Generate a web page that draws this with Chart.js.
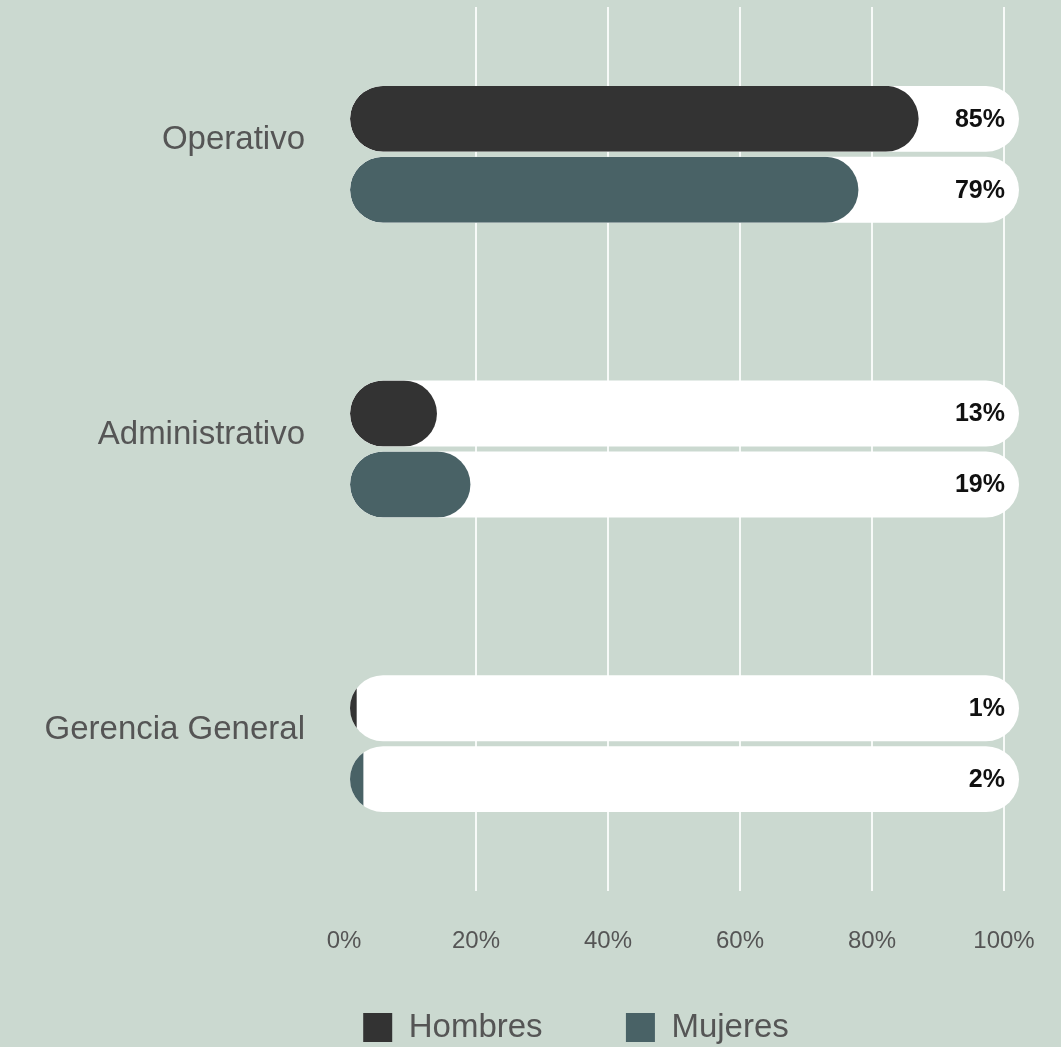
<!DOCTYPE html>
<html>
<head>
<meta charset="utf-8">
<script src="https://cdn.jsdelivr.net/npm/chart.js@4.4.1/dist/chart.umd.min.js"></script>
<style>
  html, body { margin: 0; padding: 0; background: #cbd9d0; overflow: hidden; }
  #wrap { width: 1112px; height: 1054px; }
</style>
</head>
<body>
<div id="wrap"><canvas id="chart" width="1112" height="1054"></canvas></div>
<script>
// Categories and series
const CATEGORIES = ['Operativo', 'Administrativo', 'Gerencia General'];
const SERIES = ['Hombres', 'Mujeres'];

// Printed percentages at the end of each track
const HOMBRES_LABELS = [85, 13, 1];
const MUJERES_LABELS = [79, 19, 2];

// Bar lengths as drawn
const HOMBRES = [85, 13, 1];
const MUJERES = [76, 18, 2];
const TRACK = [100, 100, 100];

// Axis ticks
const X_TICKS = [0, 20, 40, 60, 80, 100];

const HOMBRES_COLOR = '#333333';
const MUJERES_COLOR = '#496266';
const TEXT_GRAY = '#555555';
const FONT = '"Liberation Sans", Arial, Helvetica, sans-serif';

// clip the coloured bars to the white track shape
const clipToTrack = {
    id: 'clipToTrack',
    beforeDatasetDraw(chart, args) {
        if (args.index > 1) return;
        const track = chart.getDatasetMeta(args.index + 2);
        const ctx = chart.ctx;
        ctx.save();
        ctx.beginPath();
        track.data.forEach(el => {
            const left = Math.min(el.x, el.base);
            const w = Math.abs(el.x - el.base);
            ctx.roundRect(left, el.y - el.height / 2, w, el.height, el.height / 2);
        });
        ctx.clip();
    },
    afterDatasetDraw(chart, args) {
        if (args.index > 1) return;
        chart.ctx.restore();
    }
};

// percentage labels at the right end of the tracks
const endLabels = {
    id: 'endLabels',
    afterDatasetsDraw(chart) {
        const ctx = chart.ctx;
        ctx.save();
        ctx.font = 'bold 25px ' + FONT;
        ctx.fillStyle = '#111111';
        ctx.textAlign = 'right';
        ctx.textBaseline = 'middle';
        [HOMBRES_LABELS, MUJERES_LABELS].forEach((labels, i) => {
            chart.getDatasetMeta(i + 2).data.forEach((el, j) => {
                ctx.fillText(labels[j] + '%', el.x - 14, el.y + 1);
            });
        });
        ctx.restore();
    }
};

const barStyle = {
    xAxisID: 'xb',
    borderRadius: 33,
    borderSkipped: false,
    barPercentage: 0.93,
    categoryPercentage: 0.4814,
};

const noPadY = (w) => scale => { scale.width = w; scale.paddingTop = 0; scale.paddingBottom = 0; };

new Chart(document.getElementById('chart'), {
    type: 'bar',
    data: {
        labels: CATEGORIES,
        datasets: [
            { ...barStyle, label: SERIES[0], data: HOMBRES, backgroundColor: HOMBRES_COLOR, stack: 'h', order: 0 },
            { ...barStyle, label: SERIES[1], data: MUJERES, backgroundColor: MUJERES_COLOR, stack: 'm', order: 0 },
            { ...barStyle, label: 'track h', data: TRACK, backgroundColor: '#ffffff', stack: 'h', order: 1 },
            { ...barStyle, label: 'track m', data: TRACK, backgroundColor: '#ffffff', stack: 'm', order: 1 },
        ]
    },
    options: {
        indexAxis: 'y',
        responsive: false,
        animation: false,
        devicePixelRatio: 1,
        layout: {
            padding: { top: 7, left: 40, right: 0, bottom: 0 }
        },
        plugins: {
            tooltip: { enabled: false },
            legend: {
                position: 'bottom',
                labels: {
                    filter: item => item.datasetIndex < 2,
                    generateLabels: chart => {
                        const items = Chart.defaults.plugins.legend.labels.generateLabels(chart);
                        // wider spacing after the first entry
                        items[0].text = items[0].text + '\u00a0'.repeat(8);
                        return items;
                    },
                    boxWidth: 29,
                    boxHeight: 29,
                    padding: 10,
                    color: TEXT_GRAY,
                    font: { family: FONT, size: 33 }
                }
            }
        },
        scales: {
            y: {
                stacked: true,
                grid: { display: false, drawTicks: false },
                border: { display: false },
                ticks: {
                    color: TEXT_GRAY,
                    padding: 39,
                    labelOffset: -14,
                    font: { family: FONT, size: 33 }
                },
                afterFit: noPadY(304)
            },
            yr: {
                type: 'category',
                position: 'right',
                grid: { display: false, drawTicks: false },
                border: { display: false },
                ticks: { display: false },
                afterFit: noPadY(93)
            },
            x: {
                position: 'bottom',
                min: 0,
                max: 102.27,
                grid: {
                    drawTicks: false,
                    lineWidth: 2,
                    color: c => (c.tick && c.tick.value === 0) ? 'rgba(0,0,0,0)' : 'rgba(255,255,255,0.85)'
                },
                border: { display: false },
                afterBuildTicks: scale => { scale.ticks = X_TICKS.map(v => ({ value: v })); },
                ticks: {
                    color: TEXT_GRAY,
                    padding: 36,
                    font: { family: FONT, size: 24 },
                    callback: v => v + '%'
                },
                afterFit: scale => { scale.height = 110; scale.paddingLeft = 0; scale.paddingRight = 0; }
            },
            xb: {
                display: false,
                stacked: false,
                min: -0.897,
                max: 100
            }
        }
    },
    plugins: [clipToTrack, endLabels]
});
</script>
</body>
</html>
